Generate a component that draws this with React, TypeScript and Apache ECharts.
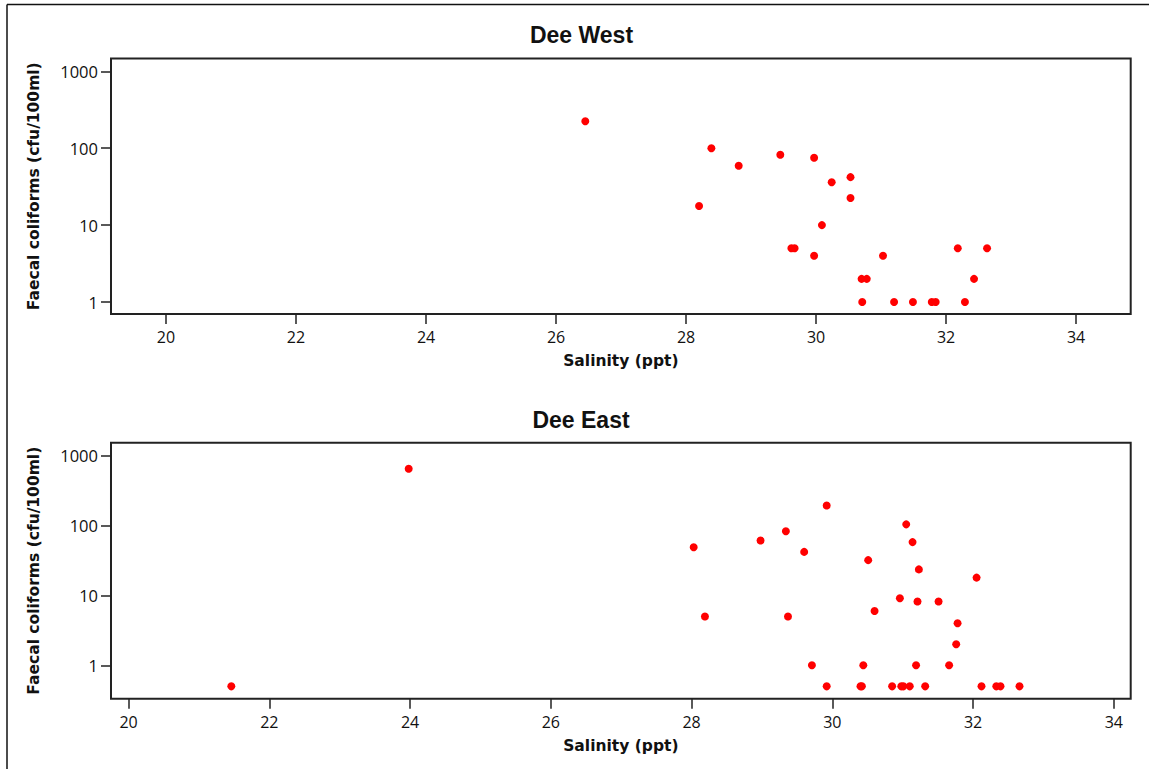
import React, { useEffect, useRef } from "react";
import * as echarts from "echarts";

const westSalinity = [26.45, 28.39, 29.45, 29.97, 28.81, 30.24, 30.53, 30.53, 28.2, 30.09, 29.62, 29.67, 29.97, 31.03, 32.18, 32.63, 30.7, 30.78, 32.43, 30.71, 31.2, 31.49, 31.78, 31.84, 32.29];
const westFC = [224, 100, 82, 75, 59, 36, 42, 22.5, 17.7, 10, 5, 5, 4, 4, 5, 5, 2, 2, 2, 1, 1, 1, 1, 1, 1];

const eastSalinity = [21.46, 23.98, 28.03, 28.19, 28.98, 29.34, 29.37, 29.6, 29.71, 29.92, 29.92, 30.51, 30.6, 30.4, 30.42, 30.44, 30.85, 30.96, 30.98, 31.01, 31.05, 31.1, 31.14, 31.19, 31.21, 31.23, 31.32, 31.51, 31.66, 31.76, 31.78, 32.05, 32.12, 32.33, 32.39, 32.66];
const eastFC = [0.5, 650, 49, 5, 61, 83, 5, 42, 1, 194, 0.5, 32, 6, 0.5, 0.5, 1, 0.5, 9.1, 0.5, 0.5, 104, 0.5, 58, 1, 8.2, 23.6, 0.5, 8.2, 1, 2, 4, 18, 0.5, 0.5, 0.5, 0.5];

const xTicks = [20, 22, 24, 26, 28, 30, 32, 34];
const yTicks = [1, 10, 100, 1000];
const titles = ["Dee West", "Dee East"];
const xName = "Salinity (ppt)";
const yName = "Faecal coliforms (cfu/100ml)";

const tickFont = "'Open Sans', 'Noto Sans', sans-serif";
const boldFont = "'DejaVu Sans', sans-serif";

export default function App() {
  const ref = useRef<HTMLDivElement>(null);
  useEffect(() => {
    if (!ref.current) return;
    const chart = echarts.init(ref.current, null, { renderer: "svg" });
    const logTicks = yTicks.map((v) => Math.log10(v));

    const mkX = (gridIndex: number, min: number, max: number) => ({
      type: "value",
      gridIndex,
      min,
      max,
      name: xName,
      nameLocation: "middle",
      nameGap: 39,
      nameTextStyle: { fontFamily: boldFont, fontWeight: "bold", fontSize: 15.5, color: "#111" },
      axisLine: { show: false, onZero: false },
      splitLine: { show: false },
      axisTick: { show: true, inside: false, length: 10, customValues: xTicks, lineStyle: { color: "#222", width: 1.5 } },
      axisLabel: { customValues: xTicks, margin: 15, fontFamily: tickFont, fontSize: 16, color: "#111" },
    });
    const mkY = (gridIndex: number, min: number, max: number) => ({
      type: "value",
      gridIndex,
      min,
      max,
      name: yName,
      nameLocation: "middle",
      nameGap: 69,
      nameTextStyle: { fontFamily: boldFont, fontWeight: "bold", fontSize: 15.5, color: "#111" },
      axisLine: { show: false, onZero: false },
      splitLine: { show: false },
      axisTick: { show: true, inside: false, length: 10, customValues: logTicks, lineStyle: { color: "#222", width: 1.5 } },
      axisLabel: {
        customValues: logTicks,
        margin: 13,
        fontFamily: tickFont,
        fontSize: 16.5,
        color: "#111",
        formatter: (v: number) => String(Math.round(Math.pow(10, v))),
      },
    });

    chart.setOption({
      animation: false,
      backgroundColor: "#fff",
      grid: [
        { left: 111, width: 1019.7, top: 58.5, height: 255.5, show: true, borderColor: "#222", borderWidth: 2, containLabel: false },
        { left: 111, width: 1019.7, top: 442.7, height: 256, show: true, borderColor: "#222", borderWidth: 2, containLabel: false },
      ],
      xAxis: [mkX(0, 19.154, 34.84), mkX(1, 19.75, 34.24)],
      yAxis: [mkY(0, -0.156, 3.166), mkY(1, -0.478, 3.186)],
      series: [
        {
          type: "scatter",
          xAxisIndex: 0,
          yAxisIndex: 0,
          symbolSize: 8,
          itemStyle: { color: "#ff0000", opacity: 1 },
          data: westSalinity.map((x, i) => [x, Math.log10(westFC[i])]),
        },
        {
          type: "scatter",
          xAxisIndex: 1,
          yAxisIndex: 1,
          symbolSize: 8,
          itemStyle: { color: "#ff0000", opacity: 1 },
          data: eastSalinity.map((x, i) => [x, Math.log10(eastFC[i])]),
        },
      ],
      graphic: [
        { type: "line", shape: { x1: 7, y1: 4.5, x2: 1149, y2: 4.5 }, style: { stroke: "#111", lineWidth: 1.5 } },
        { type: "line", shape: { x1: 7, y1: 4.5, x2: 7, y2: 769 }, style: { stroke: "#111", lineWidth: 1.5 } },
        {
          type: "text",
          x: 581.5,
          y: 35,
          style: { text: titles[0], textAlign: "center", textVerticalAlign: "middle", fontFamily: "'Liberation Sans', Arial, sans-serif", fontWeight: "bold", fontSize: 23, fill: "#111" },
        },
        {
          type: "text",
          x: 581,
          y: 420,
          style: { text: titles[1], textAlign: "center", textVerticalAlign: "middle", fontFamily: "'Liberation Sans', Arial, sans-serif", fontWeight: "bold", fontSize: 23, fill: "#111" },
        },
      ],
    });
    return () => chart.dispose();
  }, []);
  return <div ref={ref} style={{ position: "absolute", left: 0, top: 0, width: 1149, height: 769 }} />;
}
